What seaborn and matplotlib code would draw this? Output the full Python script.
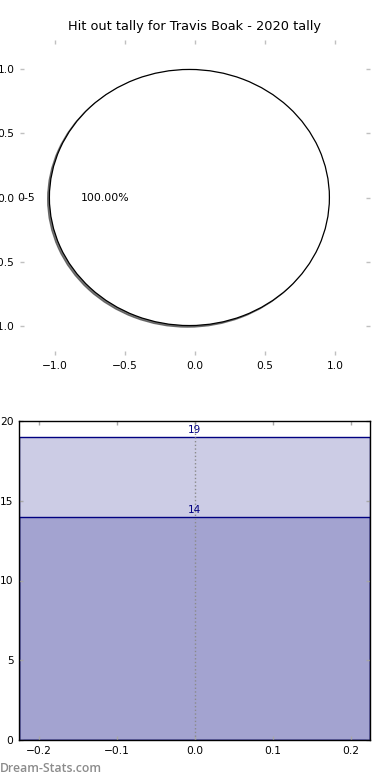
import matplotlib
matplotlib.use("Agg")
import matplotlib.pyplot as plt
import seaborn as sns
import numpy as np
import pandas as pd
from matplotlib.colors import to_rgba

# ---- data ----
title = "Hit out tally for Travis Boak - 2020 tally"
pie_labels = ["0-5"]
pie_values = [100.0]
bar_category = ["0-5"]
bar_total = [19]
bar_top = [14]
pie_ticks = [-1.0, -0.5, 0.0, 0.5, 1.0]
bar_xticks = [-0.2, -0.1, 0.0, 0.1, 0.2]
bar_yticks = [0, 5, 10, 15, 20]

plt.rcParams.update({
    "font.family": ["DejaVu Sans"],
    "xtick.direction": "in",
    "ytick.direction": "in",
    "xtick.top": True,
    "ytick.right": True,
    "axes.unicode_minus": True,
})

fig = plt.figure(figsize=(3.9, 7.8), dpi=100, facecolor="white")

# ---- top: pie ----
ax1 = fig.add_axes([20 / 390, 1 - 355 / 780, 350 / 390, 315 / 780])
wedges, texts, autotexts = ax1.pie(
    pie_values, labels=pie_labels, autopct="%.2f%%",
    shadow={"ox": -0.009, "oy": -0.009, "alpha": 0.75},
    center=(-0.04, 0), colors=["white"],
    wedgeprops=dict(edgecolor="black", linewidth=0.9),
    textprops=dict(fontsize=7.8, color="black"),
)
ax1.set_aspect("auto")
ax1.set_frame_on(False)
ax1.set_xlim(-1.25, 1.25)
ax1.set_ylim(-1.23, 1.23)
ax1.set_xticks(pie_ticks)
ax1.set_yticks(pie_ticks)
ax1.set_xticklabels([f"{t:.1f}".replace("-", "\u2212") for t in pie_ticks])
ax1.set_yticklabels([f"{t:.1f}".replace("-", "\u2212") for t in pie_ticks])
ax1.tick_params(axis="both", which="both", direction="in", length=3, width=1,
                color="#c0c0c0", labelsize=7.7, pad=4,
                top=True, right=True, bottom=True, left=True)
ax1.set_title(title, fontsize=9.3, pad=7)

# ---- bottom: bars ----
ax2 = fig.add_axes([19 / 390, 1 - 740 / 780, 351 / 390, 319 / 780])
df_total = pd.DataFrame({"cat": bar_category, "val": bar_total})
df_top = pd.DataFrame({"cat": bar_category, "val": bar_top})
sns.barplot(data=df_total, x="cat", y="val", ax=ax2, width=0.45, color="navy")
sns.barplot(data=df_top, x="cat", y="val", ax=ax2, width=0.45, color="navy")
for p in ax2.patches:
    p.set_facecolor(to_rgba("navy", 0.2))
    p.set_edgecolor("navy")
    p.set_linewidth(1.0)
ax2.axvline(0, color="#8a8a8a", linestyle=":", linewidth=1.0, zorder=3)
for v in bar_total + bar_top:
    ax2.text(0, v + 0.1, str(v), ha="center", va="bottom", color="navy", fontsize=7.5)
ax2.set_xlim(-0.225, 0.225)
ax2.set_ylim(0, 20)
ax2.set_xticks(bar_xticks)
ax2.set_xticklabels([f"{t:.1f}".replace("-", "\u2212") for t in bar_xticks])
ax2.set_yticks(bar_yticks)
ax2.set_yticklabels([str(t) for t in bar_yticks])
ax2.set_xlabel("")
ax2.set_ylabel("")
for s in ax2.spines.values():
    s.set_color("black")
    s.set_linewidth(1.0)
ax2.tick_params(axis="both", which="both", direction="in", length=3, width=1,
                color="#a8a8a8", labelsize=7.7, pad=4,
                top=True, right=True, bottom=True, left=True)

fig.text(0.0, 0.0105, "Dream-Stats.com", color="#8c8c8c", fontsize=8.8,
         fontweight="semibold", family=["Open Sans", "DejaVu Sans"])

fig.savefig("out.png", dpi=100, facecolor="white")
